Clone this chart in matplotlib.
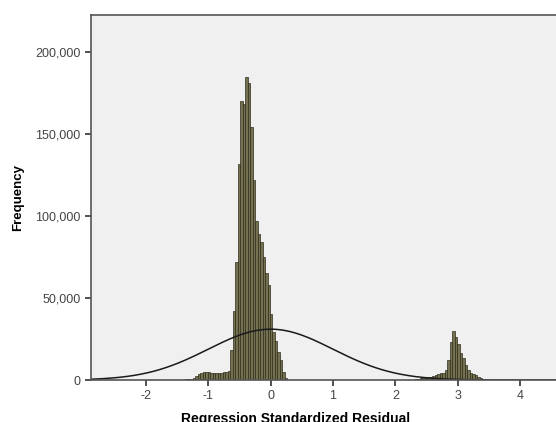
import numpy as np
import matplotlib
matplotlib.use("Agg")
import matplotlib.pyplot as plt

plt.rcParams['font.family'] = ['Liberation Sans', 'DejaVu Sans']
plt.rcParams['axes.unicode_minus'] = False

# histogram bins (width 0.04), counts
bin_width = 0.04

# low tail + plateau left of the main peak, starting at -1.61
tail_start = -1.61
tail_counts = [50, 80, 100, 150, 200, 300, 400, 600, 900,
               1500, 2500, 3500, 4300, 4900, 5000, 4600, 4200, 4200,
               4300, 4400, 4500, 4600, 4800, 5200]

# main peak, starting at -0.65
main_start = -0.65
main_counts = [18000, 42000, 72000, 132000, 170000, 168000, 185000, 181000,
               154000, 122000, 97000, 89000, 84000, 75000, 65000, 58000,
               40000, 29000, 24000, 17000, 12000, 5000, 1000]

# second peak near 3, starting at 2.23
second_start = 2.23
second_counts = [200, 300, 500, 700, 1000, 1200, 1500, 1800, 2000, 2500,
                 3000, 3500, 4000, 4500, 6100, 12200, 23400, 30000, 26400,
                 22000, 16300, 13200, 9100, 6100, 4500, 3500, 2800, 2000,
                 1200, 600, 200]

curve_mean = 0.0
curve_sd = 1.0
curve_peak = 31000

y_ticks = [0, 50000, 100000, 150000, 200000]
y_labels = ['0', '50,000', '100,000', '150,000', '200,000']
x_ticks = [-2, -1, 0, 1, 2, 3, 4]

lefts = []
heights = []
for start, counts in [(tail_start, tail_counts), (main_start, main_counts), (second_start, second_counts)]:
    for i in range(len(counts)):
        lefts.append(start + i * bin_width)
        heights.append(counts[i])

fig = plt.figure(figsize=(5.56, 4.22), dpi=100)
ax = fig.add_axes([0.1637, 0.0995, 0.8363, 0.865])
ax.set_facecolor('#f0f0f0')

ax.bar(lefts, heights, width=bin_width, align='edge',
       color='#757150', edgecolor='#2e2d1c', linewidth=0.5)

xs = np.linspace(-2.9, 4.6, 400)
ys = curve_peak * np.exp(-0.5 * ((xs - curve_mean) / curve_sd) ** 2)
ax.plot(xs, ys, color='#1a1a1a', linewidth=1.1)

ax.set_xlim(-2.88, 4.576)
ax.set_ylim(0, 222560)
ax.set_yticks(y_ticks)
ax.set_yticklabels(y_labels)
ax.set_xticks(x_ticks)

ax.tick_params(axis='both', direction='out', length=4, width=1.2, colors='#333333', labelsize=9)
ax.tick_params(axis='both', labelcolor='#444444')
for s in ['left', 'bottom', 'top']:
    ax.spines[s].set_color('#555555')
    ax.spines[s].set_linewidth(1.2)
ax.spines['right'].set_visible(False)

ax.set_ylabel('Frequency', fontsize=9.5, fontweight='bold', labelpad=8)
ax.set_xlabel('Regression Standardized Residual', fontsize=10, fontweight='bold')
ax.xaxis.set_label_coords(0.44, -0.088)

fig.savefig('out.png', dpi=100)
